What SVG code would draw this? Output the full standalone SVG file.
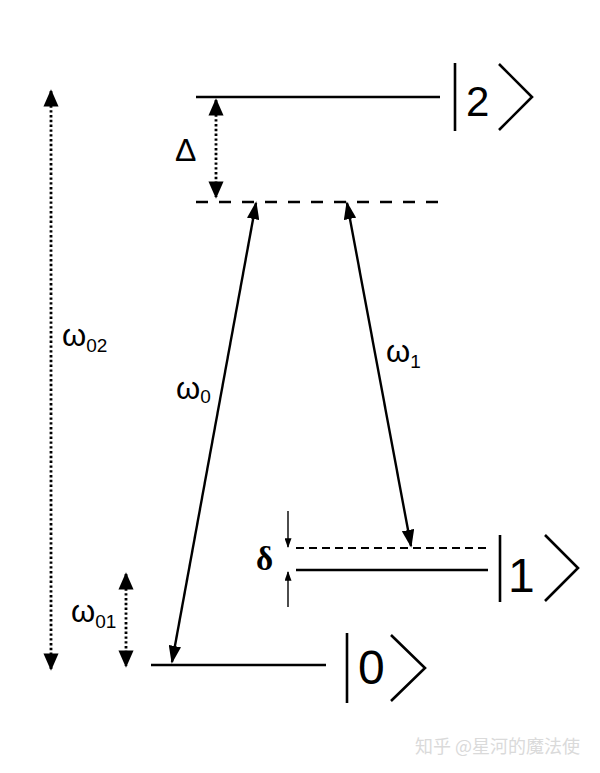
<svg xmlns="http://www.w3.org/2000/svg" width="600" height="773" viewBox="0 0 600 773">
<defs>
<style>
.lvl{stroke:#000;stroke-width:2.4;fill:none}
.dash{stroke:#000;stroke-width:2.6;stroke-dasharray:12 11;fill:none}
.dash2{stroke:#000;stroke-width:2.2;stroke-dasharray:8 5;fill:none}
.ket{stroke:#000;stroke-width:2.6;fill:none}
.dot{stroke:#000;stroke-width:2.8;stroke-dasharray:2.4 2.4;fill:none}
.sol{stroke:#000;stroke-width:2.4;fill:none}
.thin{stroke:#000;stroke-width:1.4;fill:none}
text{font-family:"Liberation Sans",Arial,sans-serif;fill:#000}
.lab{font-size:31px}
.sub{font-size:19px}
</style>
<marker id="ah" viewBox="0 0 10 10" refX="9" refY="5" markerWidth="7.5" markerHeight="5.2" markerUnits="strokeWidth" orient="auto-start-reverse" preserveAspectRatio="none">
<path d="M0,0 L10,5 L0,10 Z" fill="#000"/>
</marker>
<marker id="ad" viewBox="0 0 10 10" refX="9" refY="5" markerWidth="6.2" markerHeight="5.4" markerUnits="strokeWidth" orient="auto-start-reverse" preserveAspectRatio="none">
<path d="M0,0 L10,5 L0,10 Z" fill="#000"/>
</marker>
<marker id="as" viewBox="0 0 10 10" refX="9" refY="5" markerWidth="7" markerHeight="5" markerUnits="strokeWidth" orient="auto-start-reverse" preserveAspectRatio="none">
<path d="M0,0 L10,5 L0,10 Z" fill="#000"/>
</marker>
</defs>
<g id="level2">
<line class="lvl" x1="196" y1="97" x2="440" y2="97"/>
<line class="ket" x1="455" y1="63" x2="455" y2="131"/>
<text x="466" y="116" style="font-size:42px">2</text>
<polyline class="ket" points="499,64 532,97 499,130"/>
</g>
<g id="virtual">
<line class="dash" x1="196" y1="202" x2="440" y2="202"/>
</g>
<g id="level1">
<line class="dash2" x1="296" y1="548" x2="488" y2="548"/>
<line class="lvl" x1="296" y1="570" x2="488" y2="570"/>
<line class="ket" x1="500" y1="535" x2="500" y2="602"/>
<text x="508" y="592" style="font-size:48px">1</text>
<polyline class="ket" points="545,535 578,568 545,601"/>
</g>
<g id="level0">
<line class="lvl" x1="151" y1="665" x2="326" y2="665"/>
<line class="ket" x1="347" y1="633" x2="347" y2="703"/>
<text x="358" y="684" style="font-size:48px">0</text>
<polyline class="ket" points="391,635 425,668 391,701"/>
</g>
<g id="connectors">
<line class="dot" x1="51" y1="91" x2="51" y2="669" marker-start="url(#ad)" marker-end="url(#ad)"/>
<line class="dot" x1="216" y1="100" x2="216" y2="197" marker-start="url(#ad)" marker-end="url(#ad)"/>
<line class="dot" x1="126" y1="574" x2="126" y2="666" marker-start="url(#ad)" marker-end="url(#ad)"/>
<line class="sol" x1="256" y1="203" x2="172" y2="662" marker-start="url(#ah)" marker-end="url(#ah)"/>
<line class="sol" x1="347" y1="203" x2="411" y2="546" marker-start="url(#ah)" marker-end="url(#ah)"/>
<line class="thin" x1="288" y1="511" x2="288" y2="547" marker-end="url(#as)"/>
<line class="thin" x1="288" y1="607" x2="288" y2="572" marker-end="url(#as)"/>
</g>
<g id="labels">
<text x="175" y="161" style="font-size:32px">Δ</text>
<text class="lab" x="62" y="346">ω<tspan class="sub" dy="6">02</tspan></text>
<text class="lab" x="176" y="399">ω<tspan class="sub" dy="4">0</tspan></text>
<text class="lab" x="386" y="362">ω<tspan class="sub" dy="6">1</tspan></text>
<text class="lab" x="71" y="622">ω<tspan class="sub" dy="6">01</tspan></text>
<text x="256" y="570" style="font-family:'Liberation Serif',serif;font-size:33px;font-weight:bold">δ</text>
</g>
<text x="415" y="753" style="font-family:'Noto Sans CJK SC',sans-serif;font-size:18px;fill:#dadada">知乎 @星河的魔法使</text>
</svg>
